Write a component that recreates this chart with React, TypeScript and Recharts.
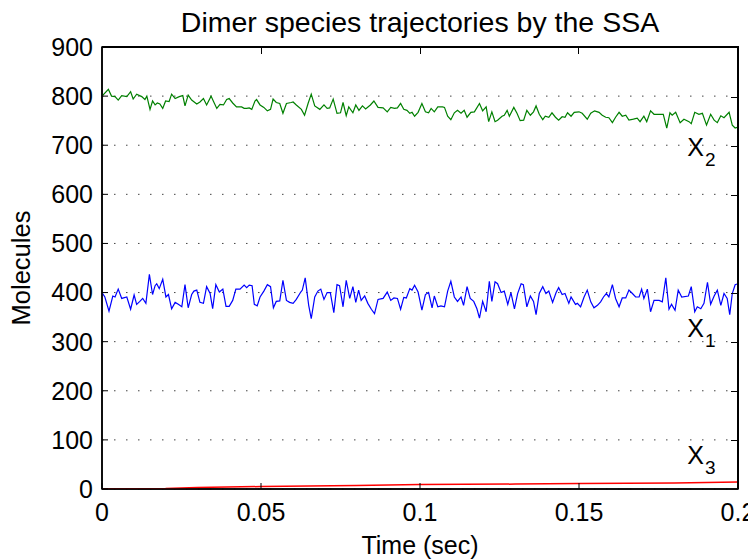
import { LineChart, Line, XAxis, YAxis, CartesianGrid, ReferenceDot, ReferenceArea } from "recharts";

// X2 (green) trajectory
const x2Time = [
  0, 0.002, 0.003, 0.0041, 0.0051, 0.0062, 0.0078, 0.009, 0.0098, 0.0109,
  0.0125, 0.0135, 0.0141, 0.0151, 0.0159, 0.0167, 0.0174, 0.0182, 0.0191, 0.02,
  0.0211, 0.0219, 0.023, 0.0243, 0.0254, 0.0261, 0.0271, 0.0282, 0.0298, 0.0308,
  0.0319, 0.0329, 0.0343, 0.035, 0.0361, 0.0371, 0.0382, 0.0392, 0.04, 0.0411,
  0.0423, 0.0439, 0.0447, 0.0455, 0.0463, 0.0471, 0.0481, 0.0486, 0.0497,
  0.0509, 0.052, 0.053, 0.0538, 0.0548, 0.0559, 0.0569, 0.058, 0.0595, 0.0601,
  0.0611, 0.0627, 0.0637, 0.0648, 0.0658, 0.0669, 0.0685, 0.0698, 0.0708, 0.0716,
  0.0727, 0.0739, 0.075, 0.0758, 0.0768, 0.0776, 0.0789, 0.0798, 0.0808, 0.0819,
  0.0829, 0.0844, 0.0855, 0.0868, 0.0884, 0.0897, 0.0908, 0.092, 0.0929, 0.0939,
  0.0949, 0.0959, 0.0968, 0.0975, 0.0983, 0.0994,
  0.1006, 0.1017, 0.1027, 0.1035, 0.1045, 0.1056, 0.1071, 0.1077, 0.1087, 0.1097,
  0.1108, 0.1118, 0.1129, 0.1139, 0.1148, 0.116, 0.1171, 0.1187, 0.1197, 0.1208,
  0.1216, 0.1226, 0.1236, 0.1244, 0.1258, 0.1265, 0.1274, 0.1281, 0.1295, 0.1305,
  0.1315, 0.1326, 0.1336, 0.1347, 0.1357, 0.1365, 0.1375, 0.1386, 0.1394, 0.1405,
  0.1415, 0.1426, 0.1436, 0.1447, 0.1456, 0.1464, 0.1475, 0.1485,
  0.15, 0.151, 0.1526, 0.1537, 0.1549, 0.1563, 0.1573, 0.1584, 0.1594, 0.1605,
  0.1615, 0.1626, 0.1636, 0.1647, 0.1657, 0.1671, 0.1683, 0.1692, 0.1704, 0.1713,
  0.1725, 0.1736, 0.1752, 0.1765, 0.1776, 0.1786, 0.1793, 0.1804, 0.1818, 0.183,
  0.1846, 0.1853, 0.1864, 0.1877, 0.1888, 0.1901, 0.1914, 0.1925, 0.1935, 0.1946,
  0.1956, 0.1972, 0.1982, 0.1991, 0.2,
];
const x2Count = [
  800, 814, 800, 799, 792, 801, 799, 809, 794, 804,
  799, 793, 800, 773, 790, 782, 786, 784, 775, 790,
  789, 804, 795, 799, 801, 780, 802, 792, 784, 788,
  795, 782, 800, 790, 775, 783, 782, 793, 795, 786,
  778, 778, 775, 775, 776, 773, 790, 793, 782,
  777, 770, 773, 794, 787, 785, 765, 785, 787, 788,
  782, 773, 761, 785, 804, 780, 773, 782, 775, 776,
  794, 765, 766, 787, 760, 778, 766, 782, 771, 780,
  774, 782, 790, 777, 776, 768, 777, 775, 776, 785,
  773, 771, 765, 767, 759, 767,
  785, 768, 766, 775, 768, 778, 778, 777, 759, 752,
  766, 771, 765, 771, 757, 767, 768, 785, 770, 778,
  748, 768, 748, 751, 759, 761, 771, 759, 777, 765,
  750, 751, 771, 761, 768, 780, 763, 752, 759, 757,
  766, 757, 751, 758, 757, 766, 759, 767,
  768, 765, 753, 765, 770, 767, 761, 757, 756, 746,
  757, 767, 759, 761, 751, 753, 755, 748, 759, 748,
  770, 763, 763, 763, 735, 766, 761, 767, 746, 753,
  748, 744, 767, 763, 765, 741, 763, 751, 746, 760,
  756, 767, 741, 735, 737,
];

// X1 (blue) trajectory
const x1Time = [
  0, 0.0009, 0.0022, 0.0034, 0.0041, 0.0051, 0.0062, 0.0078, 0.009, 0.0101,
  0.0109, 0.0119, 0.0128, 0.0138, 0.0149, 0.0159, 0.0167, 0.0172, 0.018, 0.0191,
  0.0201, 0.0209, 0.0219, 0.023, 0.024, 0.0251, 0.0261, 0.0271, 0.0282, 0.0289,
  0.0298, 0.0308, 0.0319, 0.0329, 0.034, 0.0348, 0.0358, 0.0369, 0.038, 0.039,
  0.04, 0.0411, 0.0421, 0.0434, 0.0447, 0.0455, 0.0463, 0.0472, 0.0479, 0.0488,
  0.0497,
  0.0509, 0.052, 0.053, 0.0539, 0.0548, 0.0559, 0.0569, 0.058, 0.059, 0.0601,
  0.0611, 0.0625, 0.063, 0.0639, 0.065, 0.0658, 0.0669, 0.0679, 0.0688, 0.0698,
  0.0708, 0.0718, 0.0729, 0.0739, 0.0747, 0.0758, 0.0768, 0.0779, 0.0789, 0.0798,
  0.0807, 0.0815, 0.0826, 0.0836, 0.0847, 0.0857, 0.0868, 0.0884, 0.0897, 0.0908,
  0.0918, 0.0929, 0.0939, 0.0949, 0.0957, 0.0968, 0.0975, 0.0983, 0.0994,
  0.1006, 0.1017, 0.1027, 0.1038, 0.1045, 0.1056, 0.1066, 0.1077, 0.1087, 0.1097,
  0.1108, 0.1118, 0.1129, 0.1137, 0.1148, 0.1158, 0.1169, 0.1179, 0.1187, 0.1197,
  0.1208, 0.1218, 0.1226, 0.1236, 0.1244, 0.1255, 0.1265, 0.1276, 0.1286, 0.1297,
  0.1307, 0.1318, 0.1325, 0.1336, 0.1347, 0.1357, 0.1365, 0.1375, 0.1386, 0.1396,
  0.1405, 0.1417, 0.1428, 0.1436, 0.1447, 0.1456, 0.1468, 0.1475, 0.1489,
  0.1495, 0.1505, 0.1516, 0.1526, 0.1537, 0.1547, 0.1558, 0.1568, 0.1577, 0.1586,
  0.1594, 0.1605, 0.1615, 0.1626, 0.1636, 0.1647, 0.1657, 0.1668, 0.1678, 0.1689,
  0.1697, 0.1704, 0.1715, 0.1725, 0.1736, 0.1752, 0.1762, 0.1773, 0.1783, 0.1791,
  0.1802, 0.1812, 0.1823, 0.1844, 0.1853, 0.1864, 0.1872, 0.1883, 0.1893, 0.1904,
  0.1914, 0.1925, 0.1935, 0.1946, 0.1956, 0.1966, 0.1974, 0.1982, 0.1991, 0.2,
];
const x1Count = [
  400, 391, 362, 393, 391, 407, 388, 391, 366, 395,
  376, 382, 388, 378, 437, 396, 414, 418, 408, 427,
  391, 396, 367, 380, 376, 371, 416, 369, 396, 403,
  405, 380, 378, 412, 398, 367, 416, 401, 407, 372,
  372, 384, 407, 407, 415, 410, 415, 414, 376, 373,
  391,
  403, 416, 412, 369, 382, 383, 425, 384, 380, 378,
  386, 401, 405, 430, 374, 347, 391, 403, 407, 386,
  400, 400, 359, 416, 414, 371, 425, 388, 412, 380,
  405, 384, 393, 378, 366, 357, 386, 388, 401, 384,
  389, 388, 366, 390, 389, 408, 405, 415, 401,
  364, 396, 400, 369, 393, 371, 373, 371, 403, 423,
  391, 382, 391, 374, 412, 388, 382, 367, 348, 382,
  361, 423, 382, 422, 418, 400, 403, 376, 400, 367,
  398, 418, 416, 371, 393, 382, 355, 398, 412, 398,
  403, 380, 400, 410, 396, 398, 378, 391, 376,
  378, 371, 391, 405, 381, 369, 374, 381, 391, 398,
  391, 416, 388, 371, 389, 389, 405, 398, 391, 391,
  407, 388, 407, 361, 384, 384, 381, 430, 366, 376,
  364, 405, 391, 393, 412, 361, 371, 367, 378, 421,
  376, 393, 405, 374, 398, 388, 355, 398, 416, 418,
];

// X3 (red) trajectory
const x3Time = [0, 0.02, 0.03, 0.05, 0.08, 0.1, 0.13, 0.15, 0.18, 0.2];
const x3Count = [0, 1, 3, 5, 7, 9, 10, 11, 12, 14];

const xTicks = [0, 0.05, 0.1, 0.15, 0.2];
const yTicks = [0, 100, 200, 300, 400, 500, 600, 700, 800, 900];
const X_MAX = 0.2;
const Y_MAX = 900;

const seriesLabels = [
  { sub: "1", t: 0.1875, v: 328 },
  { sub: "2", t: 0.1875, v: 696 },
  { sub: "3", t: 0.1875, v: 69 },
];

const x1Data = x1Time.map((t, i) => ({ t, v: x1Count[i] }));
const x2Data = x2Time.map((t, i) => ({ t, v: x2Count[i] }));
const x3Data = x3Time.map((t, i) => ({ t, v: x3Count[i] }));

const FONT = '"Liberation Sans", Arial, Helvetica, sans-serif';
const axisLine = { stroke: "#000", strokeWidth: 1.5 };
const tickLine = { stroke: "#000", strokeWidth: 1 };
const tickText = { fill: "#000", fontSize: 25, fontFamily: FONT };

// plot box inside the svg (chart margins + axis sizes)
const PLOT = { left: 94, top: 39, width: 636, height: 442 };

function SubLabel(props: any) {
  const vb = props.viewBox || { x: 0, y: 0 };
  return (
    <text x={vb.x - 11} y={vb.y + 9} fontFamily={FONT} fontSize={25} fill="#000">
      X
      <tspan dx={1} dy={10} fontSize={19}>
        {props.sub}
      </tspan>
    </text>
  );
}

// top and right edges of the MATLAB-style box, with inward ticks
function BoxEdges() {
  return (
    <div
      style={{
        position: "absolute",
        left: PLOT.left,
        top: PLOT.top - 1,
        width: PLOT.width + 1,
        height: PLOT.height + 1,
        borderTop: "2px solid #000",
        borderRight: "2px solid #000",
        boxSizing: "border-box",
        pointerEvents: "none",
        zIndex: 2,
      }}
    >
      {xTicks.slice(1, -1).map((t) => (
        <div
          key={"t" + t}
          style={{ position: "absolute", top: 0, left: `${(t / X_MAX) * 100}%`, width: 1, height: 6, background: "#000" }}
        />
      ))}
      {yTicks.slice(1, -1).map((v) => (
        <div
          key={"r" + v}
          style={{ position: "absolute", right: 0, top: `${(1 - v / Y_MAX) * 100}%`, width: 6, height: 1, background: "#000" }}
        />
      ))}
    </div>
  );
}

export default function App() {
  return (
    <div style={{ position: "relative", width: 748, height: 552, background: "#fff" }}>
      <div
        style={{
          position: "absolute",
          left: 412,
          top: 14,
          transform: "translate(-50%, -50%)",
          whiteSpace: "nowrap",
          fontFamily: FONT,
          fontSize: 28.5,
          lineHeight: 1,
        }}
      >
        Dimer species trajectories by the SSA
      </div>
      <div
        style={{
          position: "absolute",
          left: 14,
          top: 260,
          transform: "translate(-50%, -50%) rotate(-90deg)",
          whiteSpace: "nowrap",
          fontFamily: FONT,
          fontSize: 25.5,
          lineHeight: 1,
        }}
      >
        Molecules
      </div>
      <div
        style={{
          position: "absolute",
          left: 412,
          top: 537,
          transform: "translate(-50%, -50%)",
          whiteSpace: "nowrap",
          fontFamily: FONT,
          fontSize: 25,
          lineHeight: 1,
        }}
      >
        Time (sec)
      </div>
      <LineChart width={748} height={552} margin={{ top: PLOT.top, right: 748 - PLOT.left - PLOT.width, bottom: 0, left: 0 }}>
        <CartesianGrid vertical={false} stroke="#444" strokeDasharray="1.5 10.5" />
        <XAxis
          dataKey="t"
          type="number"
          domain={[0, X_MAX]}
          ticks={xTicks}
          interval={0}
          allowDataOverflow
          height={71}
          tickSize={-6}
          tickMargin={20}
          axisLine={axisLine}
          tickLine={tickLine}
          tick={tickText}
        />
        <YAxis
          type="number"
          domain={[0, Y_MAX]}
          ticks={yTicks}
          interval={0}
          allowDataOverflow
          width={PLOT.left}
          tickSize={-6}
          tickMargin={15}
          axisLine={axisLine}
          tickLine={tickLine}
          tick={tickText}
        />
        {/* frame drawn in the svg as well, in case the overlay is not painted */}
        <ReferenceArea
          x1={0}
          x2={X_MAX}
          y1={0}
          y2={Y_MAX}
          ifOverflow="visible"
          fill="none"
          fillOpacity={0}
          stroke="#000"
          strokeWidth={1.5}
        />
        <Line data={x2Data} dataKey="v" type="linear" stroke="#008000" strokeWidth={1.2} dot={false} isAnimationActive={false} />
        <Line data={x1Data} dataKey="v" type="linear" stroke="#0000ff" strokeWidth={1.2} dot={false} isAnimationActive={false} />
        <Line data={x3Data} dataKey="v" type="linear" stroke="#ff0000" strokeWidth={1.5} dot={false} isAnimationActive={false} />
        {seriesLabels.map((l) => (
          <ReferenceDot
            key={l.sub}
            x={l.t}
            y={l.v}
            r={0}
            fill="none"
            stroke="none"
            label={<SubLabel sub={l.sub} />}
          />
        ))}
      </LineChart>
      <BoxEdges />
    </div>
  );
}
